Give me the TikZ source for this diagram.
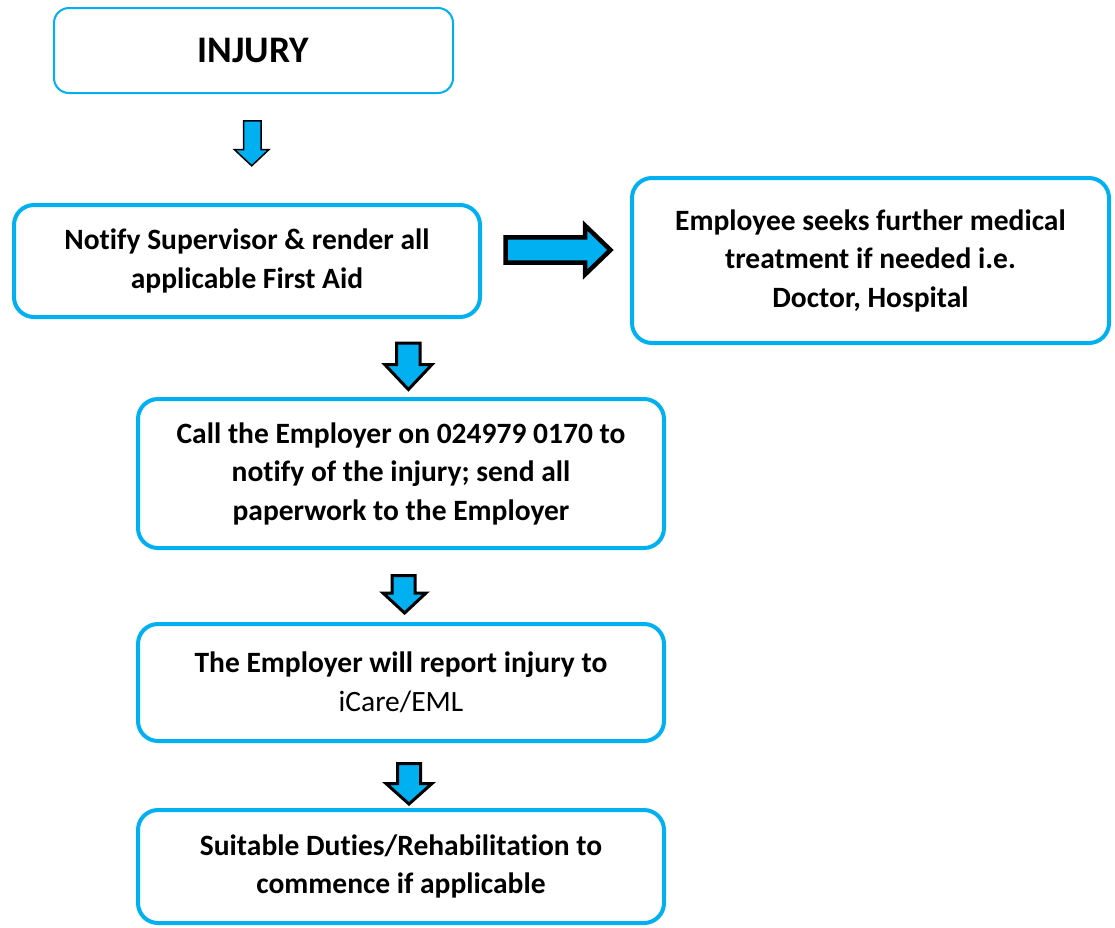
\documentclass[tikz,border=0pt]{standalone}
\usepackage{fontspec}
\setmainfont{Carlito}[Ligatures=NoCommon]
\definecolor{msblue}{HTML}{00B0F0}
\begin{document}
\begin{tikzpicture}[x=1pt,y=-1pt,
  box/.style={draw=msblue, line width=4pt, rounded corners=20pt, fill=white,
    align=center, inner sep=0pt, font=\fontsize{29.5}{38.5}\selectfont\bfseries},
  blockarrow/.style={draw=black, fill=msblue, line width=3pt, line join=miter}]
\path[use as bounding box] (0,0) rectangle (1115,927);
\fill[white] (0,0) rectangle (1115,927);

\node[box, line width=2pt, rounded corners=15pt, minimum width=399pt, minimum height=85pt,
  font=\fontsize{37.5}{40}\selectfont\bfseries] (inj) at (253.5,50.5) {INJURY};
\node[box, minimum width=466pt, minimum height=112pt] (notify) at (247,261)
  {Notify Supervisor \& render all\\applicable First Aid};
\node[box, minimum width=477pt, minimum height=165pt] (seek) at (870.5,260.5)
  {Employee seeks further medical\\treatment if needed i.e.\\Doctor, Hospital};
\node[box, minimum width=526pt, minimum height=149pt] (call) at (401,473.5)
  {Call the Employer on 024979 0170 to\\notify of the injury; send all\\paperwork to the Employer};
\node[box, minimum width=526pt, minimum height=117pt] (report) at (401,682.5)
  {The Employer will report injury to\\\mdseries iCare/EML};
\node[box, minimum width=526pt, minimum height=113pt] (duties) at (401,866.5)
  {Suitable Duties/Rehabilitation to\\commence if applicable};

% block arrows
\draw[blockarrow, line width=1.5pt] (243.5,120.8) -- (261,120.8) -- (261,149.5) -- (269,149.5)
  -- (251.7,165.8) -- (234.3,149.5) -- (243.5,149.5) -- cycle;
\draw[blockarrow, line width=4.5pt] (505.5,237.3) -- (585,237.3) -- (585,225.5) -- (610.5,250)
  -- (585,274.5) -- (585,262.7) -- (505.5,262.7) -- cycle;
\draw[blockarrow] (396.5,343.2) -- (420.2,343.2) -- (420.2,364.5) -- (432,364.5)
  -- (408.4,389.5) -- (384.7,364.5) -- (396.5,364.5) -- cycle;
\draw[blockarrow] (392.2,575.5) -- (415.2,575.5) -- (415.2,593) -- (426,593)
  -- (404.6,613) -- (383,593) -- (392.2,593) -- cycle;
\draw[blockarrow] (397.5,763.5) -- (420.5,763.5) -- (420.5,783.5) -- (432,783.5)
  -- (409,804) -- (386,783.5) -- (397.5,783.5) -- cycle;
\end{tikzpicture}
\end{document}
